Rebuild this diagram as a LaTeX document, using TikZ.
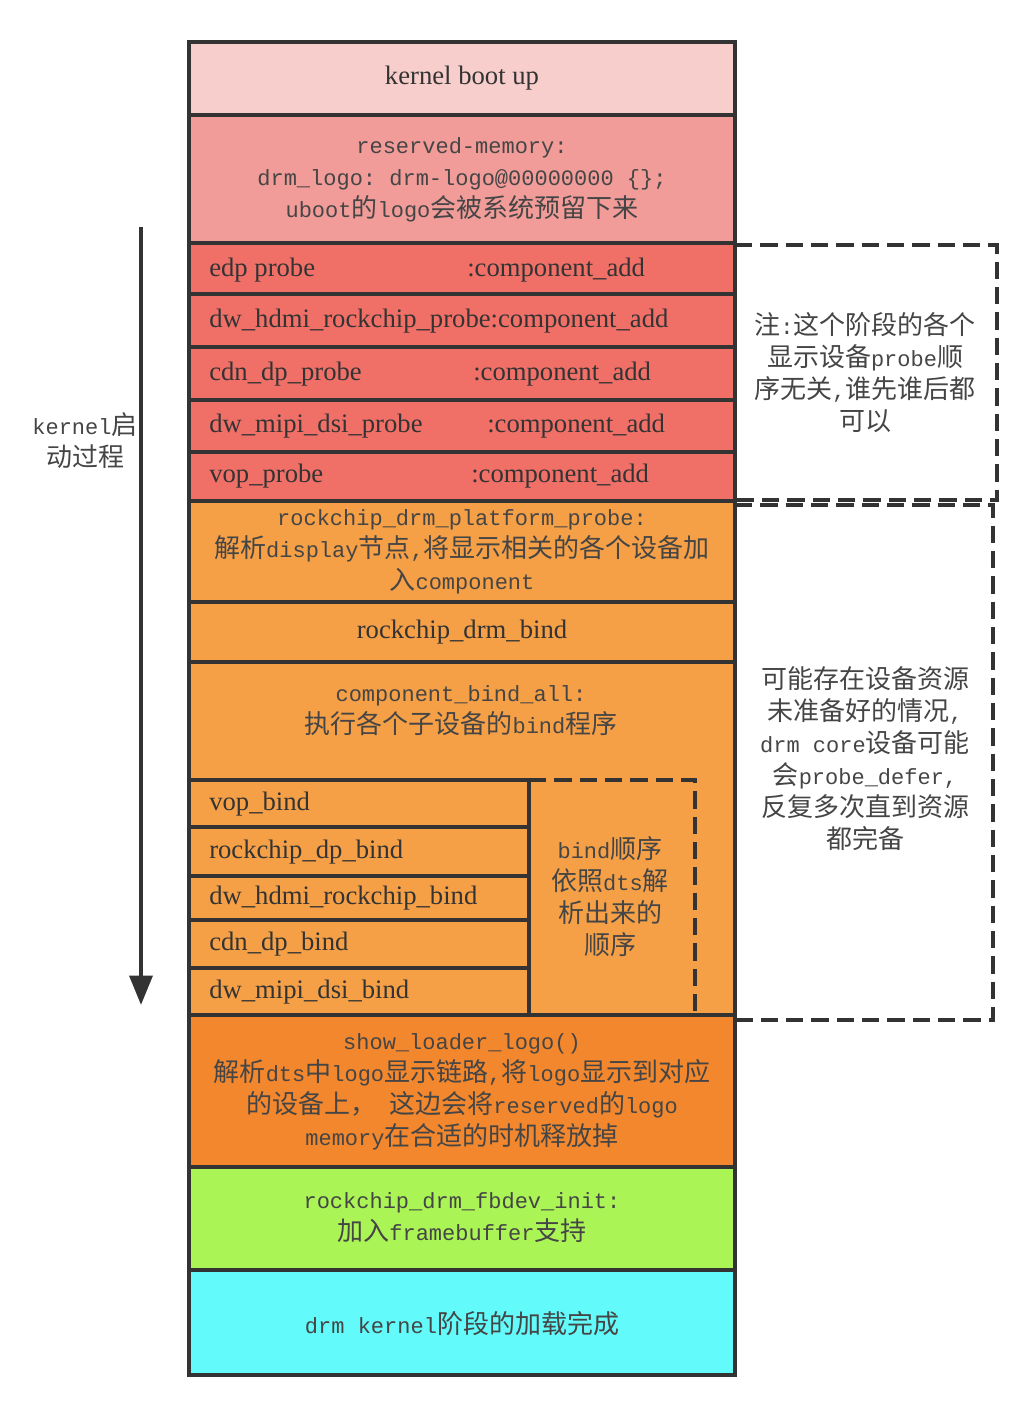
\documentclass[tikz,border=0pt]{standalone}
\usepackage{fontspec}
\setmainfont{Liberation Serif}
\setmonofont{Liberation Mono}
\newfontfamily\cjkfont{Noto Sans CJK SC}
\usetikzlibrary{arrows.meta}
\newcommand\Z[1]{{\cjkfont\fontsize{19.5}{24}\selectfont #1}}
\definecolor{linec}{HTML}{333333}
\definecolor{txt}{HTML}{333333}
\definecolor{txtm}{HTML}{454545}
\definecolor{cPink}{HTML}{F8CECC}
\definecolor{cRose}{HTML}{F19C99}
\definecolor{cRed}{HTML}{F07068}
\definecolor{cOrange}{HTML}{F5A047}
\definecolor{cDark}{HTML}{F2872E}
\definecolor{cGreen}{HTML}{AAF555}
\definecolor{cCyan}{HTML}{62FAFA}
\begin{document}
\begin{tikzpicture}[x=0.75pt,y=-0.75pt,
  rowbox/.style={draw=linec,line width=2.7pt},
  dashbox/.style={draw=linec,line width=2.7pt,dash pattern=on 13pt off 6pt},
  tnr/.style={font=\fontsize{20}{24}\selectfont\rmfamily,text=txt,inner sep=0pt},
  mixed/.style={font=\fontsize{16.5}{24}\selectfont\ttfamily,text=txtm,inner sep=0pt,align=center},
  flow/.style={draw=linec,line width=3.2pt,-{Triangle[width=17pt,length=22pt]}}]
\useasboundingbox (0,0) rectangle (1030,1404);

% main column backgrounds
\draw[rowbox,fill=cPink]   (189,42)  rectangle (735,115);
\draw[rowbox,fill=cRose]   (189,115) rectangle (735,243);
\draw[rowbox,fill=cRed]    (189,243) rectangle (735,294);
\draw[rowbox,fill=cRed]    (189,294) rectangle (735,347);
\draw[rowbox,fill=cRed]    (189,347) rectangle (735,400);
\draw[rowbox,fill=cRed]    (189,400) rectangle (735,452);
\draw[rowbox,fill=cRed]    (189,452) rectangle (735,501);
\draw[rowbox,fill=cOrange] (189,501) rectangle (735,602);
\draw[rowbox,fill=cOrange] (189,602) rectangle (735,662);
\draw[rowbox,fill=cOrange] (189,662) rectangle (735,1015);
\draw[rowbox,fill=cOrange] (189,780) rectangle (529,827);
\draw[rowbox,fill=cOrange] (189,827) rectangle (529,876);
\draw[rowbox,fill=cOrange] (189,876) rectangle (529,920);
\draw[rowbox,fill=cOrange] (189,920) rectangle (529,968);
\draw[rowbox,fill=cOrange] (189,968) rectangle (529,1015);
\draw[rowbox,fill=cDark]   (189,1015) rectangle (735,1167);
\draw[rowbox,fill=cGreen]  (189,1167) rectangle (735,1270);
\draw[rowbox,fill=cCyan]   (189,1270) rectangle (735,1375);

% dashed groups
\draw[dashbox] (529,780) -- (695,780) -- (695,1015);
\draw[dashbox] (735,245) -- (997,245) -- (997,500) -- (735,500);
\draw[dashbox] (735,505) -- (993,505) -- (993,1020) -- (735,1020);

% arrow
\coordinate (aTop) at (141,227);
\coordinate (aBot) at (141,1005);
\draw[flow] (aTop) -- (aBot);
\node[mixed] (klabel) at (85,441) {kernel\Z{启}\\\Z{动过程}};

% texts
\node[tnr] (boot) at (462,78) {kernel boot up};
\node[mixed] (resv) at (462,180) {reserved-memory:\\drm\_logo: drm-logo@00000000 \{\};\\uboot\Z{的}logo\Z{会被系统预留下来}};

\node[tnr,anchor=west] (p1) at (209,270) {edp probe};
\node[tnr,anchor=west] (p1b) at (467,270) {:component\_add};
\node[tnr,anchor=west] (p2) at (209,321) {dw\_hdmi\_rockchip\_probe:component\_add};
\node[tnr,anchor=west] (p3) at (209,374) {cdn\_dp\_probe};
\node[tnr,anchor=west] (p3b) at (473,374) {:component\_add};
\node[tnr,anchor=west] (p4) at (209,426) {dw\_mipi\_dsi\_probe};
\node[tnr,anchor=west] (p4b) at (487,426) {:component\_add};
\node[tnr,anchor=west] (p5) at (209,476) {vop\_probe};
\node[tnr,anchor=west] (p5b) at (471,476) {:component\_add};

\node[mixed] (plat) at (462,552) {rockchip\_drm\_platform\_probe:\\\Z{解析}display\Z{节点},\Z{将显示相关的各个设备加}\\\Z{入}component};
\node[tnr] (dbind) at (462,632) {rockchip\_drm\_bind};
\node[mixed] (ball) at (461,711) {component\_bind\_all:\\\Z{执行各个子设备的}bind\Z{程序}};

\node[tnr,anchor=west] (b1) at (209,804) {vop\_bind};
\node[tnr,anchor=west] (b2) at (209,852) {rockchip\_dp\_bind};
\node[tnr,anchor=west] (b3) at (209,898) {dw\_hdmi\_rockchip\_bind};
\node[tnr,anchor=west] (b4) at (209,944) {cdn\_dp\_bind};
\node[tnr,anchor=west] (b5) at (209,992) {dw\_mipi\_dsi\_bind};
\node[mixed] (border) at (610,897) {bind\Z{顺序}\\\Z{依照}dts\Z{解}\\\Z{析出来的}\\\Z{顺序}};

\node[mixed] (logo) at (462,1092) {show\_loader\_logo()\\\Z{解析}dts\Z{中}logo\Z{显示链路},\Z{将}logo\Z{显示到对应}\\\Z{的设备上，} \Z{这边会将}reserved\Z{的}logo\\memory\Z{在合适的时机释放掉}};
\node[mixed] (fb) at (462,1218) {rockchip\_drm\_fbdev\_init:\\\Z{加入}framebuffer\Z{支持}};
\node[mixed] (done) at (462,1324) {drm kernel\Z{阶段的加载完成}};

\node[mixed] (note1) at (865,373) {\Z{注}:\Z{这个阶段的各个}\\\Z{显示设备}probe\Z{顺}\\\Z{序无关},\Z{谁先谁后都}\\\Z{可以}};
\node[mixed] (note2) at (865,759) {\Z{可能存在设备资源}\\\Z{未准备好的情况},\\drm core\Z{设备可能}\\\Z{会}probe\_defer,\\\Z{反复多次直到资源}\\\Z{都完备}};
\end{tikzpicture}
\end{document}
